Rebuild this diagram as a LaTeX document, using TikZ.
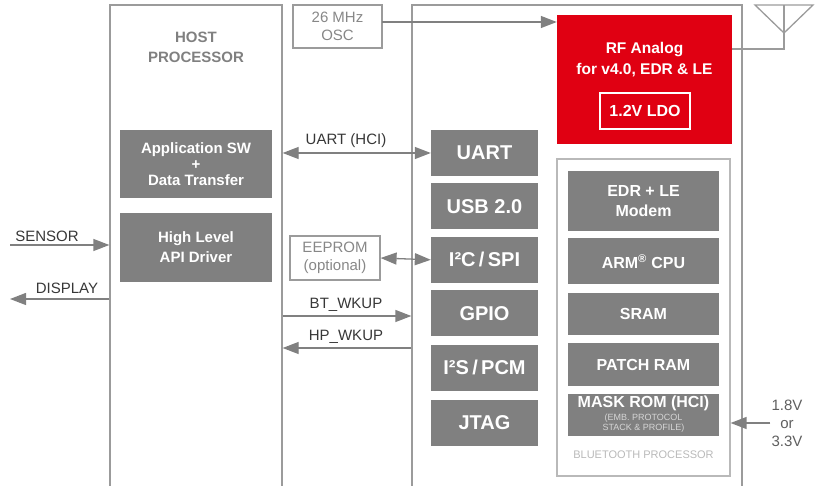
\documentclass[tikz,border=0pt]{standalone}
\usepackage{fontspec}
\setmainfont{Liberation Sans}
\usetikzlibrary{arrows.meta,positioning}

\definecolor{boxGray}{RGB}{128,128,128}
\definecolor{chipRed}{RGB}{224,0,18}
\definecolor{lineGray}{RGB}{155,155,155}
\definecolor{txtGray}{RGB}{55,55,55}
\definecolor{softGray}{RGB}{135,135,135}
\definecolor{paleGray}{RGB}{185,185,185}
\newcommand{\romNote}[1]{{\mdseries\color{paleGray!60!white}\fontsize{9}{10}\selectfont #1}}

\begin{document}
\begin{tikzpicture}[x=1pt,y=-1pt,
  frameBox/.style={draw=lineGray,line width=1.3pt,inner sep=0pt},
  grayBox/.style={fill=boxGray,text=white,align=center,inner sep=0pt,
    font=\bfseries\fontsize{15}{20}\selectfont},
  redBox/.style={grayBox,fill=chipRed},
  ifBox/.style={grayBox,minimum width=107pt,minimum height=46pt,
    font=\bfseries\fontsize{20}{22}\selectfont},
  btBox/.style={grayBox,minimum width=151pt,font=\bfseries\fontsize{16}{20}\selectfont},
  lbl/.style={text=txtGray,inner sep=1pt,font=\fontsize{15}{18}\selectfont},
  softBox/.style={draw=lineGray,line width=1.2pt,text=softGray,align=center,
    inner sep=0pt,font=\fontsize{15}{18}\selectfont},
  arr/.style={draw=boxGray,line width=1.3pt,-{Triangle[length=16pt,width=12pt]}},
  arrBoth/.style={arr,{Triangle[length=16pt,width=12pt]}-{Triangle[length=16pt,width=12pt]}}]
  \useasboundingbox (0,0) rectangle (822,486);

  % frames, open at the bottom edge
  \node[frameBox,minimum width=172pt,minimum height=490pt] (host) at (196,250) {};
  \node[frameBox,minimum width=330pt,minimum height=490pt] (chip) at (577,250) {};
  \node[text=boxGray,align=center,font=\bfseries\fontsize{15}{20}\selectfont]
    (hostTxt) at (196,47) {HOST\\PROCESSOR};

  % host side
  \node[grayBox,minimum width=152pt,minimum height=68pt,
    font=\bfseries\fontsize{15}{16}\selectfont] (app) at (196,164)
    {Application SW\\+\\Data Transfer};
  \node[grayBox,minimum width=152pt,minimum height=69pt] (api) at (196,247.5)
    {High Level\\API Driver};

  % external parts
  \node[softBox,minimum width=89pt,minimum height=43pt] (osc) at (337.5,26.5) {26 MHz\\OSC};
  \node[softBox,minimum width=90pt,minimum height=44pt] (eeprom) at (335,258) {EEPROM\\(optional)};

  % interfaces
  \node[ifBox] (uart) at (484.5,153) {UART};
  \node[ifBox,below=7pt of uart] (usb) {USB 2.0};
  \node[ifBox,below=7pt of usb] (i2c) {I²C\,/\,SPI};
  \node[ifBox,below=7pt of i2c] (gpio) {GPIO};
  \node[ifBox,below=8pt of gpio] (i2s) {I²S\,/\,PCM};
  \node[ifBox,below=9pt of i2s] (jtag) {JTAG};

  % radio
  \node[redBox,minimum width=175pt,minimum height=129pt] (rf) at (644.5,79.5) {};
  \node[text=white,align=center,font=\bfseries\fontsize{15.5}{21}\selectfont]
    (rfTxt) at (644.5,59.5) {RF Analog\\for v4.0, EDR \& LE};
  \node[draw=white,line width=1.5pt,text=white,minimum width=90pt,minimum height=36pt,
    inner sep=0pt,font=\bfseries\fontsize{16}{18}\selectfont] (ldo) at (645,111) {1.2V LDO};

  % bluetooth processor
  \node[draw=paleGray,line width=1.2pt,minimum width=173pt,minimum height=317pt]
    (btp) at (643.5,317.5) {};
  \node[redBox,btBox,minimum height=60pt] (modem) at (643.5,201) {EDR + LE\\Modem};
  \node[redBox,btBox,minimum height=46pt,below=7pt of modem] (cpu) {ARM\textsuperscript{®} CPU};
  \node[btBox,minimum height=42pt,below=8pt of cpu] (sram) {SRAM};
  \node[btBox,minimum height=43pt,below=8pt of sram] (patch) {PATCH RAM};
  \node[btBox,minimum height=42pt,below=7pt of patch,font=\bfseries\fontsize{16}{15}\selectfont] (rom)
    {MASK ROM (HCI)\\[-2pt]\romNote{(EMB. PROTOCOL}\\[-5pt]\romNote{STACK \& PROFILE)}};
  \node[text=paleGray,font=\fontsize{11}{12}\selectfont] (btpTxt) at (643.5,455)
    {BLUETOOTH PROCESSOR};

  % antenna
  \coordinate (pAnt) at (784,49);
  \draw[draw=lineGray,line width=1.3pt] (755,5) -- (813,5) -- (784,33) -- cycle;
  \draw[draw=lineGray,line width=1.3pt] (rf.east |- pAnt) -- (pAnt) -- (784,5);

  % supply
  \node[lbl,align=center,text=txtGray!80!white] (volt) at (787,423) {1.8V\\or\\3.3V};
  \draw[arr] (volt.west) -- (btp.east |- volt.west);

  % signals
  \coordinate (pSens) at (10,245);
  \coordinate (pDisp) at (10,299);
  \coordinate (pOsc) at (382,22);
  \coordinate (pBt) at (283,316);
  \coordinate (pHp) at (283,348);
  \draw[arr] (pSens) -- (pSens -| host.west);
  \draw[arr] (pDisp -| host.west) -- (pDisp);
  \draw[arr] (pOsc) -- (pOsc -| rf.west);
  \draw[arrBoth] (host.east |- uart.west) -- (uart.west);
  \draw[arrBoth] (eeprom.east) -- (i2c.west);
  \draw[arr] (host.east |- pBt) -- (chip.west |- pBt);
  \draw[arr] (chip.west |- pHp) -- (host.east |- pHp);

  \node[lbl] (tSens) at (47,236) {SENSOR};
  \node[lbl] (tDisp) at (67,288) {DISPLAY};
  \node[lbl] (tUart) at (346,141) {UART (HCI)};
  \node[lbl] (tBt) at (346,305) {BT\_WKUP};
  \node[lbl] (tHp) at (346,337) {HP\_WKUP};
\end{tikzpicture}
\end{document}
